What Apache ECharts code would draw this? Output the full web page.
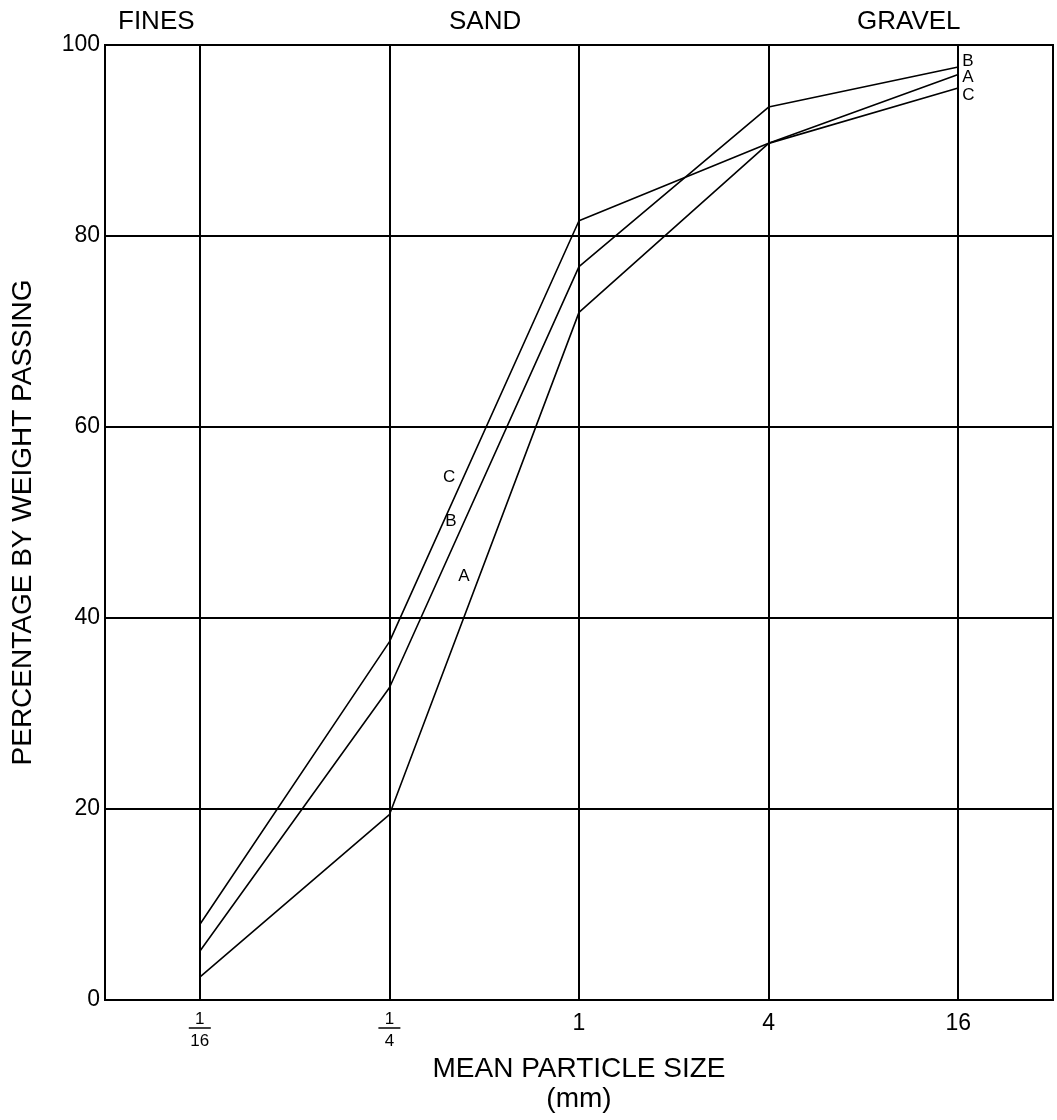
<!DOCTYPE html>
<html>
<head>
<meta charset="utf-8">
<script src="https://cdn.jsdelivr.net/npm/echarts@6/dist/echarts.min.js"></script>
<style>
  html, body { margin: 0; padding: 0; background: #fff; }
  #main { width: 1057px; height: 1120px; }
</style>
</head>
<body>
<div id="main"></div>
<script>
// 粒径 (mm)，对数刻度
const sizes = [1 / 16, 1 / 4, 1, 4, 16]
// 通过百分比
const curveA = [2.4, 19.4, 72, 89.7, 96.9]
const curveB = [5.1, 32.7, 76.8, 93.5, 97.7]
const curveC = [7.9, 37.5, 81.6, 89.7, 95.5]
const names = ['A', 'B', 'C']
// 曲线中部的字母标注 [粒径, 百分比]
const midLabelA = [0.431, 44.4]
const midLabelB = [0.392, 50.1]
const midLabelC = [0.387, 54.7]
const zones = ['FINES', 'SAND', 'GRAVEL']
const yTicks = [0, 20, 40, 60, 80, 100]

const font = 'Liberation Sans, Arial, sans-serif'
const mycharts = echarts.init(document.querySelector('#main'))

function pairs(ys) {
  return sizes.map((s, i) => [s, ys[i]])
}

function makeSeries(name, ys, mid, endOffset) {
  return {
    name: name,
    type: 'line',
    symbol: 'none',
    silent: true,
    lineStyle: { color: '#000', width: 1.6 },
    data: pairs(ys),
    endLabel: {
      show: true,
      formatter: name,
      color: '#000',
      fontFamily: font,
      fontSize: 17,
      distance: 4,
      offset: endOffset
    },
    markPoint: {
      symbol: 'circle',
      symbolSize: 0,
      label: {
        show: true,
        formatter: name,
        color: '#000',
        fontFamily: font,
        fontSize: 17,
        position: 'inside'
      },
      data: [{ coord: mid }]
    }
  }
}

const option = {
  animation: false,
  backgroundColor: '#fff',
  grid: {
    left: 105, right: 4, top: 45, bottom: 120,
    outerBoundsMode: 'none',
    show: true, borderColor: '#000', borderWidth: 2
  },
  xAxis: {
    type: 'log',
    logBase: 4,
    min: 1 / 32,
    max: 32,
    name: 'MEAN PARTICLE SIZE\n(mm)',
    nameLocation: 'middle',
    nameGap: 34,
    nameTextStyle: { color: '#000', fontFamily: font, fontSize: 28, lineHeight: 30 },
    axisLine: { lineStyle: { color: '#000', width: 2 } },
    axisTick: { show: false },
    splitLine: { show: true, lineStyle: { color: '#000', width: 2 } },
    axisLabel: {
      color: '#000',
      fontFamily: font,
      fontSize: 23,
      margin: 12,
      showMinLabel: false,
      showMaxLabel: false,
      formatter: function (v) {
        const e = Math.log(v) / Math.log(4)
        if (Math.abs(e - Math.round(e)) > 1e-6) return ''
        const r = Math.round(e)
        if (r < 0) return '{n|1}\n{bar| }\n{d|' + Math.pow(4, -r) + '}'
        return String(Math.pow(4, r))
      },
      rich: {
        n: { fontSize: 17, fontFamily: font, color: '#000', lineHeight: 14, align: 'center' },
        bar: { width: 22, height: 1.5, lineHeight: 4, backgroundColor: '#000', align: 'center' },
        d: { fontSize: 17, fontFamily: font, color: '#000', lineHeight: 22, align: 'center' }
      }
    }
  },
  yAxis: {
    type: 'value',
    min: yTicks[0],
    max: yTicks[yTicks.length - 1],
    interval: yTicks[1] - yTicks[0],
    name: 'PERCENTAGE BY WEIGHT PASSING',
    nameLocation: 'middle',
    nameGap: 68,
    nameTextStyle: { color: '#000', fontFamily: font, fontSize: 28 },
    axisLine: { show: true, lineStyle: { color: '#000', width: 2 } },
    axisTick: { show: false },
    splitLine: { show: true, lineStyle: { color: '#000', width: 2 } },
    axisLabel: { color: '#000', fontFamily: font, fontSize: 23, margin: 5 }
  },
  graphic: [
    { type: 'text', left: 118, top: 9, style: { text: zones[0], font: '26px ' + font, fill: '#000' } },
    { type: 'text', left: 449, top: 9, style: { text: zones[1], font: '26px ' + font, fill: '#000' } },
    { type: 'text', left: 857, top: 9, style: { text: zones[2], font: '26px ' + font, fill: '#000' } }
  ],
  series: [
    makeSeries(names[0], curveA, midLabelA, [0, 3]),
    makeSeries(names[1], curveB, midLabelB, [0, -6]),
    makeSeries(names[2], curveC, midLabelC, [0, 7])
  ]
}
mycharts.setOption(option)
</script>
</body>
</html>
